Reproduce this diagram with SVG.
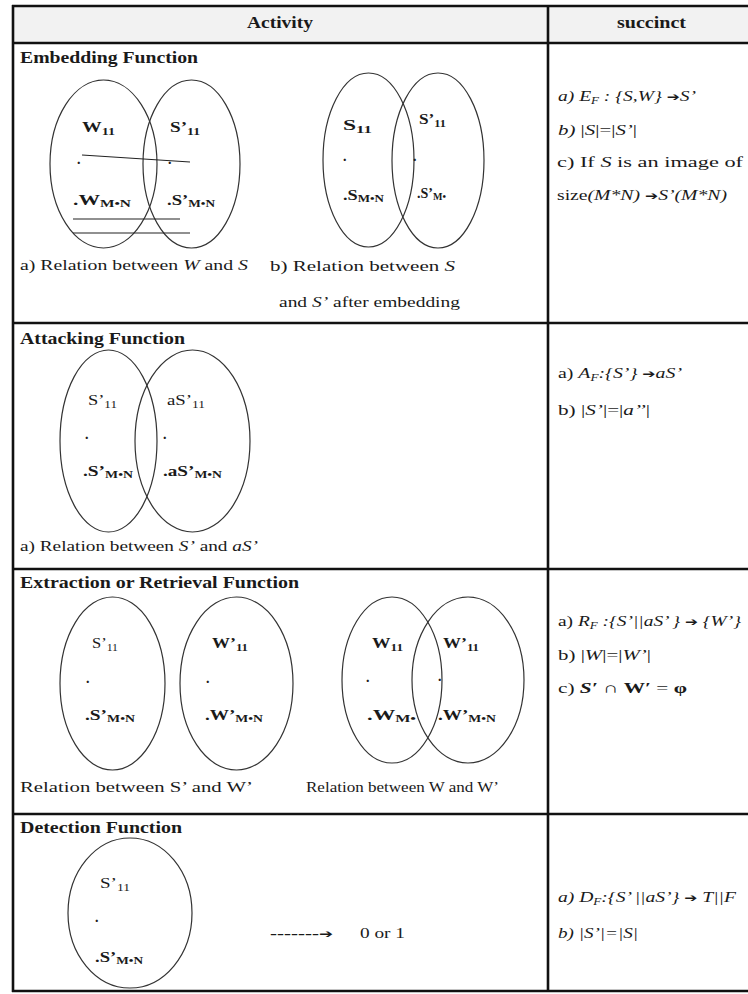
<svg xmlns="http://www.w3.org/2000/svg" width="748" height="994" viewBox="0 0 748 994">
<style>
text{font-family:"Liberation Serif","Times New Roman",serif;fill:#1a1a1a}
.h{font-weight:bold;font-size:16px}
.t{font-size:15px}
.i{font-style:italic}
.b{font-weight:bold}
.l{font-size:14px}
.sub{font-size:10px}
.ar{font-family:"DejaVu Sans",sans-serif;font-style:normal;font-size:12px}
.grid{stroke:#111;stroke-width:2.6;fill:none}
.ell{fill:none;stroke:#333;stroke-width:1.2}
.ln{stroke:#222;stroke-width:1.2;fill:none}
</style>

<g id="table">
  <rect x="13" y="6" width="735" height="37" fill="#f2f2f2"/>
  <line class="grid" x1="12" y1="6" x2="748" y2="6"/>
  <line class="grid" x1="12" y1="43" x2="748" y2="43"/>
  <line class="grid" x1="12" y1="323" x2="748" y2="323"/>
  <line class="grid" x1="12" y1="569" x2="748" y2="569"/>
  <line class="grid" x1="12" y1="814" x2="748" y2="814"/>
  <line class="grid" x1="12" y1="991" x2="748" y2="991"/>
  <line class="grid" x1="13" y1="5" x2="13" y2="992"/>
  <line class="grid" x1="548" y1="5" x2="548" y2="992"/>
  <text class="h" x="247" y="28" textLength="66" lengthAdjust="spacingAndGlyphs">Activity</text>
  <text class="h" x="617" y="28" textLength="69" lengthAdjust="spacingAndGlyphs">succinct</text>
</g>

<!-- Row 1: Embedding -->
<g id="embedding">
  <text class="h" x="20" y="63" textLength="178" lengthAdjust="spacingAndGlyphs">Embedding Function</text>
  <g id="set-W">
    <ellipse class="ell" cx="103.5" cy="164" rx="53.5" ry="84"/>
    <text class="l b" x="82" y="132" textLength="33" lengthAdjust="spacingAndGlyphs">W<tspan class="sub" dy="3">11</tspan></text>
    <text class="l b" x="77" y="164">.</text>
    <text class="l b" x="73" y="205" textLength="58" lengthAdjust="spacingAndGlyphs">.W<tspan class="sub" dy="2">M•N</tspan></text>
  </g>
  <g id="set-S1">
    <ellipse class="ell" cx="191.5" cy="164" rx="48.5" ry="84"/>
    <text class="l b" x="170" y="132" textLength="30" lengthAdjust="spacingAndGlyphs">S’<tspan class="sub" dy="3">11</tspan></text>
    <text class="l b" x="168" y="164">.</text>
    <text class="l b" x="167" y="205" textLength="48" lengthAdjust="spacingAndGlyphs">.S’<tspan class="sub" dy="2">M•N</tspan></text>
  </g>
  <g id="set-S">
    <ellipse class="ell" cx="368.5" cy="160" rx="45.5" ry="87"/>
    <text class="l b" x="343" y="130" textLength="29" lengthAdjust="spacingAndGlyphs">S<tspan class="sub" dy="3">11</tspan></text>
    <text class="l b" x="343" y="161">.</text>
    <text class="l b" x="343" y="200" textLength="41" lengthAdjust="spacingAndGlyphs">.S<tspan class="sub" dy="2">M•N</tspan></text>
  </g>
  <g id="set-S2">
    <ellipse class="ell" cx="438" cy="160.5" rx="46" ry="87.5"/>
    <text class="l b" x="419" y="124" textLength="27" lengthAdjust="spacingAndGlyphs">S’<tspan class="sub" dy="3">11</tspan></text>
    <text class="l b" x="413" y="161">.</text>
    <text class="l b" x="417" y="198" textLength="29" lengthAdjust="spacingAndGlyphs">.S’<tspan class="sub" dy="2">M•</tspan></text>
  </g>
  <text class="t" x="20" y="270" textLength="228" lengthAdjust="spacingAndGlyphs">a) Relation between <tspan class="i">W</tspan> and <tspan class="i">S</tspan></text>
  <text class="t" x="270" y="271" textLength="185" lengthAdjust="spacingAndGlyphs">b)  Relation  between <tspan class="i">S</tspan></text>
  <text class="t" x="279" y="307" textLength="181" lengthAdjust="spacingAndGlyphs">and <tspan class="i">S’</tspan> after embedding</text>
</g>
<g id="embedding-succinct">
  <text class="t" x="558" y="101" textLength="138" lengthAdjust="spacingAndGlyphs"><tspan class="i">a) E</tspan><tspan class="i sub" dy="3">F</tspan><tspan class="i" dy="-3"> : {S,W} </tspan><tspan class="ar">➔</tspan><tspan class="i">S’</tspan></text>
  <text class="t" x="558" y="135" textLength="79" lengthAdjust="spacingAndGlyphs"><tspan class="i">b)</tspan> |<tspan class="i">S</tspan>|=|<tspan class="i">S’</tspan>|</text>
  <text class="t" x="557" y="167" textLength="186" lengthAdjust="spacingAndGlyphs">c) If <tspan class="i">S</tspan> is an image of</text>
  <text class="t" x="557" y="200" textLength="170" lengthAdjust="spacingAndGlyphs">size<tspan class="i">(M*N) </tspan><tspan class="ar">➔</tspan><tspan class="i">S’(M*N)</tspan></text>
</g>

<!-- Row 2: Attacking -->
<g id="attacking">
  <text class="h" x="20" y="344" textLength="165" lengthAdjust="spacingAndGlyphs">Attacking Function</text>
  <g id="set-S3">
    <ellipse class="ell" cx="108.5" cy="441" rx="48.5" ry="91"/>
    <text class="l" x="88" y="405" textLength="29" lengthAdjust="spacingAndGlyphs">S’<tspan class="sub" dy="3">11</tspan></text>
    <text class="l b" x="85" y="439">.</text>
    <text class="l b" x="83" y="476" textLength="50" lengthAdjust="spacingAndGlyphs">.S’<tspan class="sub" dy="2">M•N</tspan></text>
  </g>
  <g id="set-aS">
    <ellipse class="ell" cx="192.5" cy="441" rx="57.5" ry="91"/>
    <text class="l" x="167" y="405" textLength="38" lengthAdjust="spacingAndGlyphs">aS’<tspan class="sub" dy="3">11</tspan></text>
    <text class="l b" x="163" y="439">.</text>
    <text class="l b" x="163" y="476" textLength="59" lengthAdjust="spacingAndGlyphs">.aS’<tspan class="sub" dy="2">M•N</tspan></text>
  </g>
  <text class="t" x="20" y="551" textLength="238" lengthAdjust="spacingAndGlyphs">a) Relation between <tspan class="i">S’</tspan> and <tspan class="i">aS’</tspan></text>
</g>
<g id="attacking-succinct">
  <text class="t" x="558" y="378" textLength="124" lengthAdjust="spacingAndGlyphs">a)  <tspan class="i">A</tspan><tspan class="i sub" dy="3">F</tspan><tspan class="i" dy="-3">:{S’} </tspan><tspan class="ar">➔</tspan><tspan class="i">aS’</tspan></text>
  <text class="t" x="558" y="415" textLength="92" lengthAdjust="spacingAndGlyphs">b) |<tspan class="i">S’</tspan>|=|<tspan class="i">a’’</tspan>|</text>
</g>

<!-- Row 3: Extraction -->
<g id="extraction">
  <text class="h" x="20" y="588" textLength="279" lengthAdjust="spacingAndGlyphs">Extraction or Retrieval Function</text>
  <g id="set-S4">
    <ellipse class="ell" cx="112.5" cy="683.5" rx="52.5" ry="86.5"/>
    <text class="l" x="92" y="648" textLength="26" lengthAdjust="spacingAndGlyphs">S’<tspan class="sub" dy="3">11</tspan></text>
    <text class="l b" x="86" y="683">.</text>
    <text class="l b" x="85" y="720" textLength="50" lengthAdjust="spacingAndGlyphs">.S’<tspan class="sub" dy="2">M•N</tspan></text>
  </g>
  <g id="set-W1">
    <ellipse class="ell" cx="236.5" cy="683.5" rx="56.5" ry="86.5"/>
    <text class="l b" x="212" y="648" textLength="36" lengthAdjust="spacingAndGlyphs">W’<tspan class="sub" dy="3">11</tspan></text>
    <text class="l b" x="206" y="683">.</text>
    <text class="l b" x="205" y="720" textLength="58" lengthAdjust="spacingAndGlyphs">.W’<tspan class="sub" dy="2">M•N</tspan></text>
  </g>
  <g id="set-W2">
    <ellipse class="ell" cx="392" cy="680" rx="50" ry="83"/>
    <text class="l b" x="372" y="648" textLength="31" lengthAdjust="spacingAndGlyphs">W<tspan class="sub" dy="3">11</tspan></text>
    <text class="l b" x="366" y="682">.</text>
    <text class="l b" x="367" y="720" textLength="49" lengthAdjust="spacingAndGlyphs">.W<tspan class="sub" dy="2">M•</tspan></text>
  </g>
  <g id="set-W3">
    <ellipse class="ell" cx="468" cy="680" rx="56" ry="83"/>
    <text class="l b" x="443" y="648" textLength="36" lengthAdjust="spacingAndGlyphs">W’<tspan class="sub" dy="3">11</tspan></text>
    <text class="l b" x="438" y="681">.</text>
    <text class="l b" x="438" y="720" textLength="58" lengthAdjust="spacingAndGlyphs">.W’<tspan class="sub" dy="2">M•N</tspan></text>
  </g>
  <text class="t" x="20" y="792" textLength="233" lengthAdjust="spacingAndGlyphs">Relation between S’ and W’</text>
  <text class="t" x="306" y="792" textLength="193" lengthAdjust="spacingAndGlyphs">Relation between W and W’</text>
</g>
<g id="extraction-succinct">
  <text class="t" x="558" y="626" textLength="183" lengthAdjust="spacingAndGlyphs">a) <tspan class="i">R</tspan><tspan class="i sub" dy="3">F</tspan><tspan class="i" dy="-3"> :{S’||aS’ } </tspan><tspan class="ar">➔</tspan><tspan class="i"> {W’}</tspan></text>
  <text class="t" x="558" y="660" textLength="93" lengthAdjust="spacingAndGlyphs">b) |<tspan class="i">W</tspan>|=|<tspan class="i">W’</tspan>|</text>
  <text class="t" x="558" y="693" textLength="129" lengthAdjust="spacingAndGlyphs">c) <tspan class="b i">S′</tspan>  ∩ <tspan class="b">W′</tspan> = <tspan class="b">φ</tspan></text>
</g>

<!-- Row 4: Detection -->
<g id="detection">
  <text class="h" x="20" y="833" textLength="162" lengthAdjust="spacingAndGlyphs">Detection Function</text>
  <g id="set-S5">
    <ellipse class="ell" cx="130" cy="913" rx="62" ry="75"/>
    <text class="l" x="100" y="888" textLength="30" lengthAdjust="spacingAndGlyphs">S’<tspan class="sub" dy="3">11</tspan></text>
    <text class="l b" x="95" y="922">.</text>
    <text class="l b" x="95" y="962" textLength="48" lengthAdjust="spacingAndGlyphs">.S’<tspan class="sub" dy="2">M•N</tspan></text>
  </g>
  <text class="t" x="360" y="938" textLength="45" lengthAdjust="spacingAndGlyphs">0 or 1</text>
</g>
<g id="detection-succinct">
  <text class="t i" x="558" y="902" textLength="178" lengthAdjust="spacingAndGlyphs">a) D<tspan class="sub" dy="3">F</tspan><tspan dy="-3">:{S’ ||aS’} </tspan><tspan class="ar">➔</tspan> T||F</text>
  <text class="t i" x="558" y="938" textLength="80" lengthAdjust="spacingAndGlyphs">b) |S’|=|S|</text>
</g>

<g id="connectors">
  <path class="ln" d="M82,155 L190,162"/>
  <path class="ln" d="M73,219 L180,219"/>
  <path class="ln" d="M73,233 L190,233"/>
  <text class="t b" x="270" y="938" textLength="63" lengthAdjust="spacingAndGlyphs">-------<tspan class="ar" font-size="14px">➔</tspan></text>
</g>
</svg>
